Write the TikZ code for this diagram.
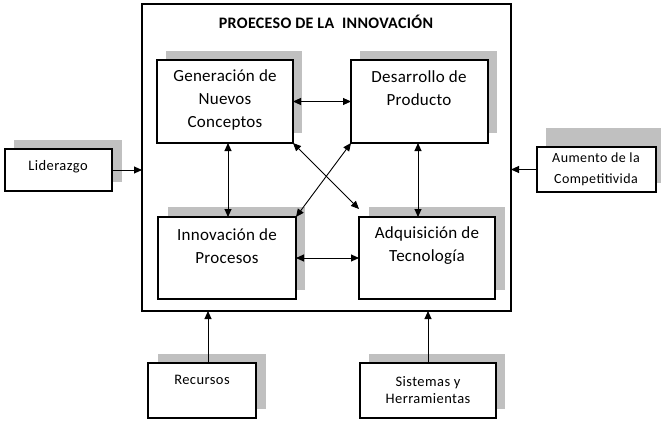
\documentclass[tikz,border=0pt]{standalone}
\usepackage{fontspec}
\setmainfont{Carlito}
\usetikzlibrary{arrows.meta}
\definecolor{shadegray}{RGB}{192,192,192}
\begin{document}
\begin{tikzpicture}[x=1pt,y=-1pt,
  box/.style={draw=black, line width=1.1pt, fill=white, inner sep=0pt, outer sep=0pt, anchor=north west},
  shade/.style={fill=shadegray, draw=none},
  big/.style={font=\fontsize{17}{23}\selectfont\addfontfeature{LetterSpace=1.5}, align=center, inner sep=0pt},
  small/.style={font=\fontsize{14.5}{22}\selectfont\addfontfeature{LetterSpace=3}, align=center, inner sep=0pt},
  arr/.style={-{Triangle[length=8pt,width=7pt]}, line width=0.9pt},
  darr/.style={{Triangle[length=8pt,width=7pt]}-{Triangle[length=8pt,width=7pt]}, line width=0.9pt}
]
\useasboundingbox[fill=white] (0,0) rectangle (661,426);

% main frame
\node[box, minimum width=369pt, minimum height=307pt] (main) at (142,4) {};
\node[font=\fontsize{16}{18}\selectfont\bfseries\addfontfeature{LetterSpace=2}, inner sep=0pt] (title) at (326,22) {PROECESO DE LA\ \ INNOVACIÓN};

% shadows
\fill[shade] (166,51) rectangle (302,133);
\fill[shade] (360,51) rectangle (497,133);
\fill[shade] (168,207) rectangle (305,290);
\fill[shade] (369,207) rectangle (505,290);
\fill[shade] (14,140) rectangle (122,182);
\fill[shade] (546,128) rectangle (661,183);
\fill[shade] (158,354) rectangle (266,409);
\fill[shade] (369,354) rectangle (505,409);

% inner boxes
\node[box, minimum width=136pt, minimum height=83pt] (gen) at (157,60) {};
\node[box, minimum width=137pt, minimum height=83pt] (des) at (351,60) {};
\node[box, minimum width=138pt, minimum height=82pt] (inn) at (158,217) {};
\node[box, minimum width=136pt, minimum height=82pt] (adq) at (359,217) {};

% outer boxes
\node[box, minimum width=107pt, minimum height=42pt] (lid) at (5,149) {};
\node[box, minimum width=119pt, minimum height=45pt] (aum) at (537,147) {};
\node[box, minimum width=108pt, minimum height=55pt] (rec) at (148,363) {};
\node[box, minimum width=136pt, minimum height=55pt] (sis) at (360,363) {};

% texts
\node[big] (tgen) at (225,100) {Generación de\\Nuevos\\Conceptos};
\node[big] (tdes) at (419,88.5) {Desarrollo de\\Producto};
\node[big] (tinn) at (227,246) {Innovación de\\Procesos};
\node[big] (tadq) at (427,246) {Adquisición de\\Tecnología};
\node[small] (tlid) at (58,167) {Liderazgo};
\node[small, font=\fontsize{14}{21}\selectfont\addfontfeature{LetterSpace=3}] (taum) at (596,169) {Aumento de la\\Competitivida};
\node[small] (trec) at (202,380) {Recursos};
\node[small, font=\fontsize{14.5}{17}\selectfont\addfontfeature{LetterSpace=3}] (tsis) at (428,390) {Sistemas y\\Herramientas};

% connectors
\draw[arr] (lid.east) -- (main.west |- lid.east);
\draw[arr] (aum.west) -- (main.east |- aum.west);
\draw[arr] (rec.north -| 208,0) -- (main.south -| 208,0);
\draw[arr] (sis.north) -- (main.south -| sis.north);

\draw[darr] (gen.east) -- (des.west);
\draw[darr] (inn.east) -- (adq.west |- inn.east);
\draw[darr] (gen.south -| 228,0) -- (inn.north -| 228,0);
\draw[darr] (des.south -| 418,0) -- (adq.north -| 418,0);
\draw[darr] (gen.south east) -- ([yshift=8pt]adq.north west);
\draw[darr] (des.south west) -- (inn.north east);
\end{tikzpicture}
\end{document}
